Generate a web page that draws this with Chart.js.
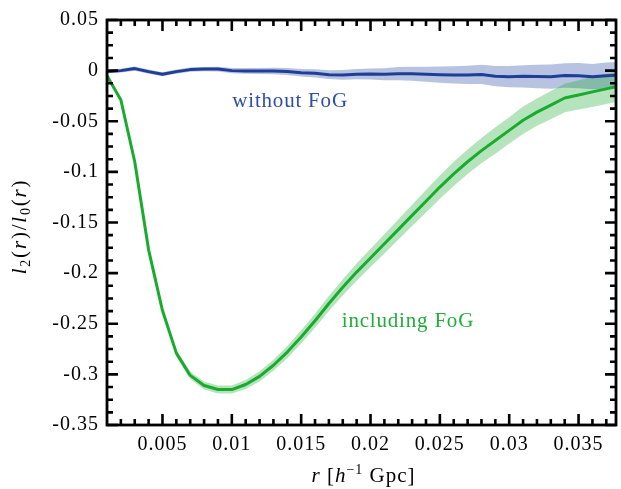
<!DOCTYPE html>
<html>
<head>
<meta charset="utf-8">
<script src="https://cdn.jsdelivr.net/npm/chart.js@4"></script>
<style>
  html, body { margin: 0; padding: 0; background: #fff; }
</style>
</head>
<body>
<canvas id="myChart" width="621" height="489"></canvas>
<script>
/* Quadrupole to monopole ratio, with and without Fingers of God */
const r = [0.001, 0.002, 0.003, 0.004, 0.005, 0.006, 0.007, 0.008, 0.009, 0.010,
           0.011, 0.012, 0.013, 0.014, 0.015, 0.016, 0.017, 0.018, 0.019, 0.020,
           0.021, 0.022, 0.023, 0.024, 0.025, 0.026, 0.027, 0.028, 0.029, 0.030,
           0.031, 0.032, 0.033, 0.034, 0.035, 0.036, 0.037, 0.0377];

const ratioNoFog = [-0.001, 0.000, 0.002, -0.001, -0.0035, -0.001, 0.001, 0.0015, 0.0015, 0.000,
                    -0.0003, -0.0003, -0.0003, -0.0008, -0.002, -0.0027, -0.004, -0.0042, -0.0035, -0.0033,
                    -0.0036, -0.003, -0.0031, -0.0036, -0.004, -0.0043, -0.0043, -0.0038, -0.0055, -0.006,
                    -0.0056, -0.0058, -0.006, -0.0048, -0.005, -0.006, -0.005, -0.0045];
const errNoFog = [0.0015, 0.0018, 0.002, 0.002, 0.002, 0.002, 0.002, 0.0022, 0.0024, 0.0026,
                  0.0028, 0.003, 0.0032, 0.0034, 0.0037, 0.004, 0.0043, 0.0047, 0.005, 0.0055,
                  0.006, 0.0065, 0.007, 0.0075, 0.008, 0.0085, 0.009, 0.0095, 0.010, 0.0105,
                  0.011, 0.0115, 0.012, 0.012, 0.0125, 0.0125, 0.013, 0.013];

const ratioFog = [-0.005, -0.029, -0.090, -0.177, -0.237, -0.279, -0.301, -0.311, -0.315, -0.315,
                  -0.310, -0.302, -0.291, -0.278, -0.263, -0.247, -0.230, -0.214, -0.199, -0.185,
                  -0.171, -0.157, -0.143, -0.129, -0.115, -0.102, -0.090, -0.079, -0.069, -0.059,
                  -0.049, -0.041, -0.034, -0.027, -0.024, -0.021, -0.018, -0.016];
const errFog = [0.001, 0.0015, 0.002, 0.002, 0.0025, 0.003, 0.0035, 0.004, 0.004, 0.004,
                0.0045, 0.005, 0.0055, 0.006, 0.0065, 0.007, 0.0075, 0.008, 0.0085, 0.009,
                0.0095, 0.010, 0.0105, 0.011, 0.0115, 0.012, 0.012, 0.0125, 0.013, 0.013,
                0.0135, 0.0135, 0.014, 0.014, 0.0145, 0.015, 0.015, 0.015];

const xTicks = [0.005, 0.01, 0.015, 0.02, 0.025, 0.03, 0.035];
const yTicks = [0.05, 0, -0.05, -0.1, -0.15, -0.2, -0.25, -0.3, -0.35];
const xMinorStep = 0.001;
const yMinorStep = 0.0125;

const labels = [
  { text: 'without FoG', x: 0.0142, y: -0.0355, color: '#2f4ea6' },
  { text: 'including FoG', x: 0.0227, y: -0.2535, color: '#20ad38' }
];

const BLUE = '#1e3e97';
const GREEN = '#1aab2e';
const SERIF = "'Liberation Serif', 'Times New Roman', serif";

function pts(ys, errs, sign) {
  return r.map((x, i) => ({ x: x, y: ys[i] + sign * (errs ? errs[i] : 0) }));
}

function fmt(v) {
  return String(+v.toFixed(4));
}

// draw a run of text pieces with mixed fonts (italic, sub/superscripts)
function drawRuns(ctx, runs, x, y) {
  let total = 0;
  runs.forEach(p => { ctx.font = p.font; total += ctx.measureText(p.t).width; });
  let cx = x - total / 2;
  runs.forEach(p => {
    ctx.font = p.font;
    ctx.fillText(p.t, cx, y + (p.dy || 0));
    cx += ctx.measureText(p.t).width;
  });
}

const framePlugin = {
  id: 'frame',
  beforeDraw(chart) {
    // slightly looser tick label spacing
    chart.ctx.letterSpacing = '1px';
  },
  beforeDatasetsDraw(chart) {
    chart.ctx.letterSpacing = '0px';
  },
  afterDatasetsDraw(chart) {
    const ctx = chart.ctx;
    const a = chart.chartArea;
    const xs = chart.scales.x, ys = chart.scales.y;
    ctx.save();
    ctx.strokeStyle = '#000';
    ctx.lineWidth = 2.6;
    ctx.lineCap = 'butt';
    ctx.beginPath();
    // minor + major ticks along x, pointing inwards on top and bottom
    for (let k = 1; ; k++) {
      const v = +(k * xMinorStep).toFixed(4);
      if (v > xs.max) break;
      if (v <= xs.min) continue;
      const px = xs.getPixelForValue(v);
      const major = xTicks.some(t => Math.abs(t - v) < 1e-7);
      const len = major ? 11 : 6;
      ctx.moveTo(px, a.bottom); ctx.lineTo(px, a.bottom - len);
      ctx.moveTo(px, a.top); ctx.lineTo(px, a.top + len);
    }
    // along y, on left and right
    for (let k = 0; ; k++) {
      const v = +(ys.min + k * yMinorStep).toFixed(4);
      if (v > ys.max + 1e-9) break;
      const py = ys.getPixelForValue(v);
      const major = yTicks.some(t => Math.abs(t - v) < 1e-7);
      const len = major ? 11 : 6;
      ctx.moveTo(a.left, py); ctx.lineTo(a.left + len, py);
      ctx.moveTo(a.right, py); ctx.lineTo(a.right - len, py);
    }
    ctx.stroke();
    ctx.lineWidth = 2.8;
    ctx.strokeRect(a.left, a.top, a.right - a.left, a.bottom - a.top);

    // curve labels
    ctx.textBaseline = 'alphabetic';
    ctx.textAlign = 'left';
    ctx.letterSpacing = '0.8px';
    labels.forEach(l => {
      ctx.fillStyle = l.color;
      ctx.font = '21px ' + SERIF;
      const w = ctx.measureText(l.text).width;
      ctx.fillText(l.text, xs.getPixelForValue(l.x) - w / 2, ys.getPixelForValue(l.y));
    });

    // axis titles
    const it = 'italic 21px ' + SERIF, rm = '21px ' + SERIF, sm = '14px ' + SERIF;
    ctx.fillStyle = '#000';
    ctx.letterSpacing = '1px';
    drawRuns(ctx, [
      { t: 'r', font: it },
      { t: ' [', font: rm },
      { t: 'h', font: it },
      { t: '\u22121', font: sm, dy: -8 },
      { t: ' Gpc]', font: rm }
    ], (a.left + a.right) / 2 + 2, 482);

    ctx.save();
    ctx.translate(26, (a.top + a.bottom) / 2 + 4);
    ctx.rotate(-Math.PI / 2);
    ctx.letterSpacing = '1.8px';
    drawRuns(ctx, [
      { t: 'l', font: it },
      { t: '2', font: sm, dy: 4 },
      { t: '(', font: rm },
      { t: 'r', font: it },
      { t: ')/', font: rm },
      { t: 'l', font: it },
      { t: '0', font: sm, dy: 4 },
      { t: '(', font: rm },
      { t: 'r', font: it },
      { t: ')', font: rm }
    ], 0, 0);
    ctx.restore();
    ctx.restore();
  }
};

Chart.defaults.font.family = SERIF;

new Chart('myChart', {
  type: 'line',
  data: {
    datasets: [
      { data: pts(ratioNoFog, errNoFog, 1), borderWidth: 0, pointRadius: 0, fill: false, order: 5 },
      { data: pts(ratioNoFog, errNoFog, -1), borderWidth: 0, pointRadius: 0, fill: '-1',
        backgroundColor: 'rgba(40, 70, 165, 0.33)', order: 4 },
      { data: pts(ratioFog, errFog, 1), borderWidth: 0, pointRadius: 0, fill: false, order: 3 },
      { data: pts(ratioFog, errFog, -1), borderWidth: 0, pointRadius: 0, fill: '-1',
        backgroundColor: 'rgba(26, 170, 46, 0.32)', order: 2 },
      { data: pts(ratioNoFog, null, 0), borderColor: BLUE, borderWidth: 3, pointRadius: 0,
        fill: false, borderJoinStyle: 'round', order: 1 },
      { data: pts(ratioFog, null, 0), borderColor: GREEN, borderWidth: 3, pointRadius: 0,
        fill: false, borderJoinStyle: 'round', order: 0 }
    ]
  },
  options: {
    responsive: false,
    animation: false,
    layout: { padding: { top: 15, right: 5, left: 0, bottom: 0 } },
    plugins: { legend: { display: false }, tooltip: { enabled: false } },
    elements: { line: { tension: 0 } },
    scales: {
      x: {
        type: 'linear',
        min: 0.001,
        max: 0.0377,
        afterBuildTicks: s => { s.ticks = xTicks.map(v => ({ value: v })); },
        afterFit: s => { s.height = 64; },
        grid: { display: false, drawTicks: false },
        border: { display: false },
        ticks: { color: '#000', font: { size: 20 }, padding: 8, maxRotation: 0, autoSkip: false, callback: fmt }
      },
      y: {
        type: 'linear',
        min: -0.35,
        max: 0.05,
        afterBuildTicks: s => { s.ticks = yTicks.map(v => ({ value: v })); },
        afterFit: s => { s.width = 107; },
        grid: { display: false, drawTicks: false },
        border: { display: false },
        ticks: { color: '#000', font: { size: 20 }, padding: 8, autoSkip: false, callback: fmt }
      }
    }
  },
  plugins: [framePlugin]
});
</script>
</body>
</html>
